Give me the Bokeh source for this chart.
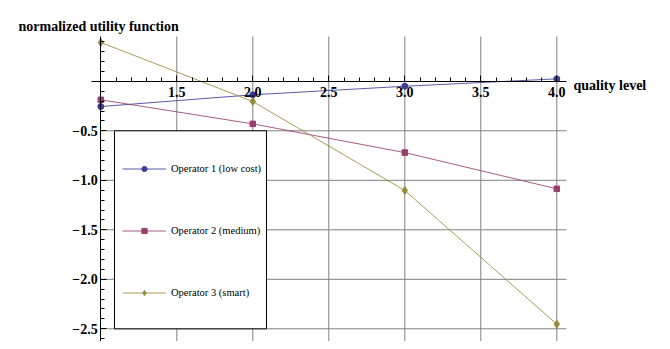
from bokeh.plotting import figure
from bokeh.models import (Range1d, FixedTicker, CustomJSTickFormatter, Label,
                          BoxAnnotation, Legend, LegendItem)
from bokeh.embed import file_html
from bokeh.resources import INLINE

# ---- data ----
quality = [1, 2, 3, 4]
op1 = [-0.255, -0.136, -0.05, 0.025]
op2 = [-0.187, -0.43, -0.72, -1.086]
op3 = [0.392, -0.204, -1.103, -2.453]
labels = ["Operator 1 (low cost)", "Operator 2 (medium)", "Operator 3 (smart)"]
colors = ["#3d3d99", "#993d71", "#998b3d"]
markers = ["circle", "square", "diamond"]
sizes = [6, 5.5, 8]

x_major = [1.5, 2.0, 2.5, 3.0, 3.5, 4.0]
x_minor = [round(1.0 + 0.1 * i, 1) for i in range(31)]
y_major = [-2.5, -2.0, -1.5, -1.0, -0.5]
y_minor = [round(-2.6 + 0.1 * i, 1) for i in range(31)]

# visible plotting area (axes extent) and full canvas ranges
ax_x0, ax_x1 = 0.939, 4.064
ax_y0, ax_y1 = -2.628, 0.4525
x_start, x_end = 0.3401, 4.6954
y_start, y_end = -2.6283, 0.8162

FONT = "Liberation Serif"

p = figure(width=662, height=341, x_range=Range1d(x_start, x_end),
           y_range=Range1d(y_start, y_end), output_backend="svg",
           toolbar_location=None, min_border_left=0, min_border_right=0,
           min_border_top=0, min_border_bottom=0)
p.outline_line_color = None
p.xgrid.visible = False
p.ygrid.visible = False

# grid lines
p.segment(x0=x_major, y0=[ax_y0] * len(x_major), x1=x_major, y1=[ax_y1] * len(x_major),
          line_color="#808080", line_width=1)
p.segment(x0=[1] * len(y_major), y0=y_major, x1=[ax_x1] * len(y_major), y1=y_major,
          line_color="#808080", line_width=1)

# axes
fmt = CustomJSTickFormatter(code="return tick.toFixed(1).replace('-', '\u2212')")
p.xaxis.fixed_location = 0
p.xaxis.bounds = (ax_x0, ax_x1)
p.xaxis.ticker = FixedTicker(ticks=x_major, minor_ticks=x_minor)
p.yaxis.fixed_location = 1
p.yaxis.bounds = (ax_y0, ax_y1)
p.yaxis.ticker = FixedTicker(ticks=y_major, minor_ticks=y_minor)
for ax in (p.xaxis, p.yaxis):
    ax.formatter = fmt
    ax.axis_line_color = "black"
    ax.axis_line_width = 1
    ax.major_tick_in = 6
    ax.major_tick_out = 0
    ax.minor_tick_in = 4
    ax.minor_tick_out = 0
    ax.major_tick_line_color = "black"
    ax.minor_tick_line_color = "black"
    ax.major_label_text_font = FONT
    ax.major_label_text_font_style = "bold"
    ax.major_label_text_font_size = "14px"
    ax.major_label_text_color = "black"
p.xaxis.major_label_standoff = 6
p.yaxis.major_label_standoff = 3

# data
items = []
for ys, lab, col, mk, sz in zip([op1, op2, op3], labels, colors, markers, sizes):
    lr = p.line(quality, ys, line_color=col, line_width=1, line_alpha=0.85)
    sr = p.scatter(quality, ys, marker=mk, size=sz, fill_color=col, line_color=col)
    items.append(LegendItem(label=lab, renderers=[lr, sr]))

# legend frame
box = BoxAnnotation(left=1.09, right=2.09, top=-0.5, bottom=-2.5,
                    fill_color="white", fill_alpha=1.0,
                    line_color="black", line_width=1, line_alpha=1.0)
p.add_layout(box)

legend = Legend(items=items, location=(122, 42), glyph_width=44, glyph_height=13,
                label_height=13, spacing=49, padding=0, margin=0,
                border_line_color=None, background_fill_alpha=0,
                label_standoff=5, label_text_font=FONT,
                label_text_font_size="10.5px", label_text_color="black")
p.add_layout(legend, "center")

# axis titles
p.add_layout(Label(x=0.4586, y=0.5535, text="normalized utility function",
                   text_font=FONT, text_font_style="bold", text_font_size="14px",
                   text_baseline="alphabetic", text_color="black"))
p.add_layout(Label(x=4.11, y=-0.0424, text="quality level",
                   text_font=FONT, text_font_style="bold", text_font_size="14px",
                   text_baseline="alphabetic", text_color="black"))

open("out.html", "w").write(file_html(p, INLINE))
